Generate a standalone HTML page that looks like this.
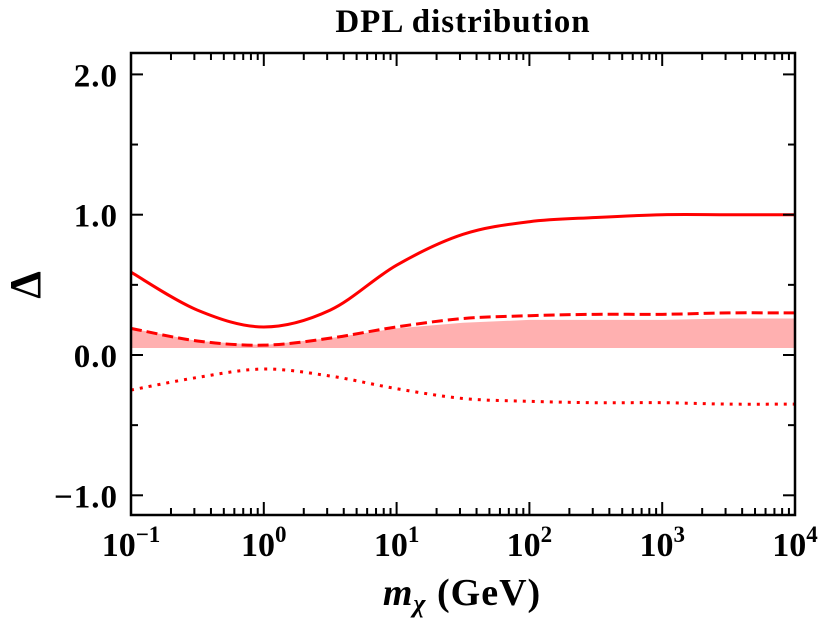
<!DOCTYPE html>
<html><head><meta charset="utf-8"><style>
body{margin:0;background:#fff}
svg text{font-family:"Liberation Serif",serif;font-weight:bold;fill:#000}
</style></head><body>
<svg width="830" height="621" viewBox="0 0 830 621">
<text x="463" y="32" font-size="33" letter-spacing="1" text-anchor="middle">DPL distribution</text>
<g id="plot"></g>
<rect x="131" y="53" width="664" height="462" fill="none" stroke="#000" stroke-width="2.5"/>
<g id="axes"></g>
<text x="462" y="605" font-size="38" letter-spacing="1" text-anchor="middle"><tspan font-style="italic">m</tspan><tspan font-style="italic" font-size="26" dy="7">χ</tspan><tspan dy="-7"> (GeV)</tspan></text>
<text x="40" y="285" font-size="44" text-anchor="middle" transform="rotate(-90 40 285)">Δ</text>
</svg>
<script>
const logX=[-1,-0.5,0,0.5,1,1.5,2,2.5,3,3.5,4];
const solid=[0.59,0.32,0.20,0.32,0.64,0.86,0.95,0.98,1.0,1.0,1.0];
const dashed=[0.19,0.10,0.07,0.12,0.20,0.26,0.28,0.29,0.29,0.30,0.30];
const dotted=[-0.25,-0.16,-0.10,-0.15,-0.24,-0.31,-0.33,-0.34,-0.34,-0.35,-0.35];
const bandUp=[0.19,0.10,0.07,0.12,0.19,0.23,0.25,0.25,0.25,0.26,0.26];
const bandLo=[0.05,0.05,0.05,0.05,0.05,0.05,0.05,0.05,0.05,0.05,0.05];
const yTicks=[-1,0,1,2];
const yLabels=["−1.0","0.0","1.0","2.0"];
const xTicks=[-1,0,1,2,3,4];
const X=v=>131+(v+1)*664/5, Y=v=>355-v*140.3;
const NS="http://www.w3.org/2000/svg";
const plot=document.getElementById('plot'), axes=document.getElementById('axes');
function mk(t,a,p){const e=document.createElementNS(NS,t);for(const k in a)e.setAttribute(k,a[k]);p.appendChild(e);return e;}
function path(arr){
  const pts=logX.map((x,i)=>[X(x),Y(arr[i])]);
  let d=`M${pts[0][0]},${pts[0][1]}`;
  for(let i=0;i<pts.length-1;i++){const p0=pts[i-1]||pts[i],p1=pts[i],p2=pts[i+1],p3=pts[i+2]||p2;
    d+=`C${p1[0]+(p2[0]-p0[0])/6},${p1[1]+(p2[1]-p0[1])/6} ${p2[0]-(p3[0]-p1[0])/6},${p2[1]-(p3[1]-p1[1])/6} ${p2[0]},${p2[1]}`;}
  return d;
}
let bd='M'+logX.map((x,i)=>X(x)+','+Y(bandUp[i])).join('L');
for(let i=logX.length-1;i>=0;i--)bd+='L'+X(logX[i])+','+Y(bandLo[i]);
let e=mk('path',{d:bd+'Z',fill:'#ffb0b0',stroke:'none'},plot);


e=mk('path',{d:path(solid),fill:'none',stroke:'#ff0000','stroke-width':3},plot);


e=mk('path',{d:path(dashed),fill:'none',stroke:'#ff0000','stroke-width':3,'stroke-dasharray':'11,5'},plot);


e=mk('path',{d:path(dotted),fill:'none',stroke:'#ff0000','stroke-width':3,'stroke-dasharray':'3,6'},plot);


for(let v=-1;v<=2.01;v+=0.5){const y=Y(v),L=Math.abs(v-Math.round(v))<0.01?12:7;
  mk('line',{x1:131,x2:131+L,y1:y,y2:y,stroke:'#000','stroke-width':2},axes);
  mk('line',{x1:795,x2:795-L,y1:y,y2:y,stroke:'#000','stroke-width':2},axes);}
yTicks.forEach((v,i)=>{const t=mk('text',{x:118,y:Y(v)+12,'font-size':33,'letter-spacing':1,'text-anchor':'end'},axes);t.textContent=yLabels[i];
  
  });
for(let d=-1;d<4;d++)for(let m=1;m<10;m++){const x=X(d+Math.log10(m)),L=m==1?13:7;
  mk('line',{x1:x,x2:x,y1:515,y2:515-L,stroke:'#000','stroke-width':2},axes);
  mk('line',{x1:x,x2:x,y1:53,y2:53+L,stroke:'#000','stroke-width':2},axes);}
xTicks.forEach(v=>{const t=mk('text',{x:X(v),y:556,'font-size':34,'text-anchor':'middle'},axes);
  t.innerHTML='10<tspan font-size="23" dy="-14">'+(v<0?'−':'')+Math.abs(v)+'</tspan>';
  
  });
</script>
</body></html>
